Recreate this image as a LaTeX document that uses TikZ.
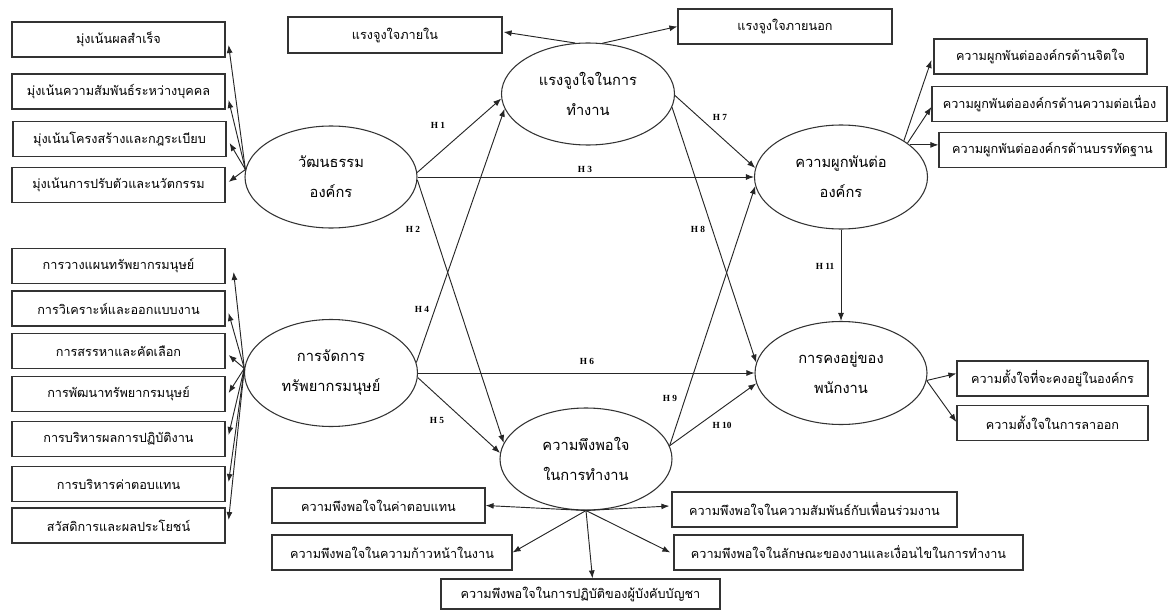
\documentclass[tikz,border=0pt]{standalone}
\usepackage{fontspec}
\newfontfamily\thai[Script=Thai]{Loma}
\newfontfamily\hfont{Liberation Serif}
\usetikzlibrary{calc,shapes.geometric,arrows.meta}
\begin{document}
\begin{tikzpicture}[x=0.75pt,y=-0.75pt,
  box/.style={draw=black!80,line width=0.9pt,rectangle,minimum height=26.25pt,inner sep=0pt,font=\thai\fontsize{9.5}{11}\selectfont},
  ell/.style={draw=black!80,line width=0.8pt,ellipse,inner sep=0pt,align=center,font=\thai\fontsize{11}{22.5}\selectfont},
  arr/.style={-{Latex[length=6pt,width=4.5pt]},line width=0.7pt,draw=black!85},
  hl/.style={font=\hfont\bfseries\fontsize{7}{8}\selectfont,inner sep=0pt}
]
\useasboundingbox (0,0) rectangle (1168,610);
% ellipses
\node[ell,minimum width=129pt,minimum height=76.5pt] (A) at (331,177) {วัฒนธรรม\\องค์กร};
\node[ell,minimum width=129.75pt,minimum height=80.25pt] (B) at (331,373) {การจัดการ\\ทรัพยากรมนุษย์};
\node[ell,minimum width=129.75pt,minimum height=76.5pt] (M) at (588,94) {แรงจูงใจในการ\\ทำงาน};
\node[ell,minimum width=129.75pt,minimum height=78pt] (C) at (841,177) {ความผูกพันต่อ\\องค์กร};
\node[ell,minimum width=129pt,minimum height=77.25pt] (R) at (841,373) {การคงอยู่ของ\\พนักงาน};
\node[ell,minimum width=129pt,minimum height=76.5pt] (S) at (586,459) {ความพึงพอใจ\\ในการทำงาน};
% culture boxes
\node[box,minimum width=159.75pt] (c1) at (118.5,39.5) {มุ่งเน้นผลสำเร็จ};
\node[box,minimum width=159.75pt] (c2) at (118.5,91.5) {มุ่งเน้นความสัมพันธ์ระหว่างบุคคล};
\node[box,minimum width=159.75pt] (c3) at (119.5,139) {มุ่งเน้นโครงสร้างและกฎระเบียบ};
\node[box,minimum width=159.75pt] (c4) at (118.5,185) {มุ่งเน้นการปรับตัวและนวัตกรรม};
% HRM boxes
\node[box,minimum width=159.75pt] (h1) at (118.5,266) {การวางแผนทรัพยากรมนุษย์};
\node[box,minimum width=159.75pt] (h2) at (118.5,308.5) {การวิเคราะห์และออกแบบงาน};
\node[box,minimum width=159.75pt] (h3) at (118.5,351) {การสรรหาและคัดเลือก};
\node[box,minimum width=159.75pt] (h4) at (118.5,394) {การพัฒนาทรัพยากรมนุษย์};
\node[box,minimum width=159.75pt] (h5) at (118.5,439) {การบริหารผลการปฏิบัติงาน};
\node[box,minimum width=159.75pt] (h6) at (118.5,484) {การบริหารค่าตอบแทน};
\node[box,minimum width=159.75pt] (h7) at (118.5,525.5) {สวัสดิการและผลประโยชน์};
% motivation boxes
\node[box,minimum width=160.5pt,minimum height=27pt] (m1) at (395,35) {แรงจูงใจภายใน};
\node[box,minimum width=160.5pt] (m2) at (785,26.5) {แรงจูงใจภายนอก};
% commitment boxes
\node[box,minimum width=159.75pt] (k1) at (1040.5,56.5) {ความผูกพันต่อองค์กรด้านจิตใจ};
\node[box,minimum width=176.25pt] (k2) at (1049.5,104) {ความผูกพันต่อองค์กรด้านความต่อเนื่อง};
\node[box,minimum width=170.25pt] (k3) at (1052.5,150) {ความผูกพันต่อองค์กรด้านบรรทัดฐาน};
% retention boxes
\node[box,minimum width=143.25pt] (r1) at (1052.5,378.5) {ความตั้งใจที่จะคงอยู่ในองค์กร};
\node[box,minimum width=143.25pt] (r2) at (1052.5,423) {ความตั้งใจในการลาออก};
% satisfaction boxes
\node[box,minimum width=159.75pt] (s1) at (378.5,505.5) {ความพึงพอใจในค่าตอบแทน};
\node[box,minimum width=213.75pt] (s2) at (814.5,509.5) {ความพึงพอใจในความสัมพันธ์กับเพื่อนร่วมงาน};
\node[box,minimum width=180pt] (s3) at (392,552.5) {ความพึงพอใจในความก้าวหน้าในงาน};
\node[box,minimum width=261.75pt] (s4) at (848.5,552.5) {ความพึงพอใจในลักษณะของงานและเงื่อนไขในการทำงาน};
\node[box,minimum width=209.25pt,minimum height=22.5pt] (s5) at (580.5,594) {ความพึงพอใจในการปฏิบัติของผู้บังคับบัญชา};
% indicator arrows
\draw[arr] (A.175) -- ($(c1.east)+(3,5.5)$);
\draw[arr] (A.175) -- ($(c2.east)+(3,8.5)$);
\draw[arr] (A.175) -- ($(c3.east)+(3,4)$);
\draw[arr] (A.175) -- ($(c4.east)+(3,-3)$);
\draw[arr] (B.177) -- ($(h1.east)+(8,6)$);
\draw[arr] (B.177) -- ($(h2.east)+(3,4.5)$);
\draw[arr] (B.177) -- ($(h3.east)+(3,4)$);
\draw[arr] (B.177) -- ($(h4.east)+(3,-1)$);
\draw[arr] (B.177) -- ($(h5.east)+(3,-4)$);
\draw[arr] (B.177) -- ($(h6.east)+(3,-2)$);
\draw[arr] (B.177) -- ($(h7.east)+(3,-5.5)$);
\draw[arr] (M.104) -- ($(m1.east)+(1,-3)$);
\draw[arr] (M.74) -- (m2.west);
\draw[arr] (C.30) -- ($(k1.west)+(-2,3.5)$);
\draw[arr] (C.27) -- ($(k2.west)+(0,3)$);
\draw[arr] (C.25) -- (C.25 -| k3.west);
\draw[arr] (R.-5) -- ($(r1.west)+(0,-5)$);
\draw[arr] (R.-5) -- ($(r2.west)+(0,-1)$);
\draw[arr] (S.south) -- (s1.east);
\draw[arr] (S.south) -- ($(s2.west)+(-2,-3.5)$);
\draw[arr] (S.south) -- (s3.east);
\draw[arr] (S.south) -- ($(s4.west)+(-3,0)$);
\draw[arr] (S.south) -- ($(s5.north)+(12,0)$);
% structural paths
\draw[arr] (A.3) -- (M.183);
\draw[arr] (A.-2) -- (S.169);
\draw[arr] (A.east) -- (C.west);
\draw[arr] (B.7) -- (M.190);
\draw[arr] (B.-3) -- (S.176);
\draw[arr] (B.east) -- (R.west);
\draw[arr] (M.-1) -- (C.174);
\draw[arr] (M.-9) -- (R.173);
\draw[arr] (S.9) -- (C.186);
\draw[arr] (S.9) -- (R.187);
\draw[arr] (C.south) -- (R.north);
% labels
\node[hl] (l1) at (438,125) {H 1};
\node[hl] (l2) at (413,229) {H 2};
\node[hl] (l3) at (585,169) {H 3};
\node[hl] (l4) at (422,309) {H 4};
\node[hl] (l5) at (437,420) {H 5};
\node[hl] (l6) at (587,361) {H 6};
\node[hl] (l7) at (720,117) {H 7};
\node[hl] (l8) at (698,229) {H 8};
\node[hl] (l9) at (670,398) {H 9};
\node[hl] (l10) at (722,425) {H 10};
\node[hl] (l11) at (825,266) {H 11};
\end{tikzpicture}
\end{document}
